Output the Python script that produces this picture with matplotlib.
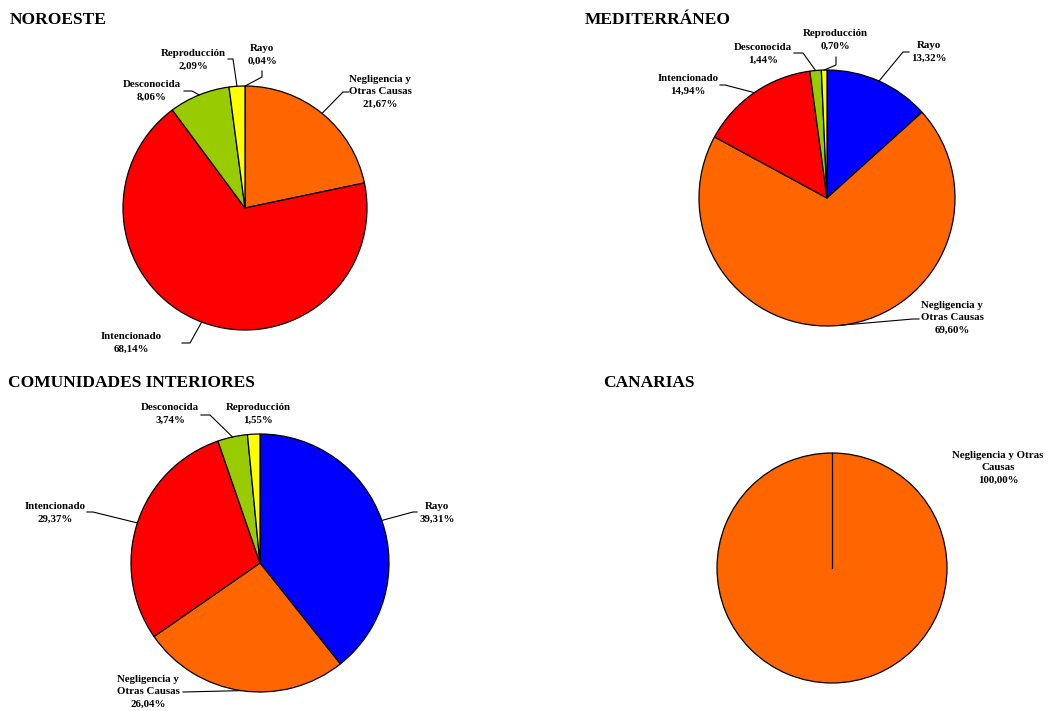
import matplotlib
matplotlib.use("Agg")
import matplotlib.pyplot as plt
import numpy as np

plt.rcParams['font.family'] = ['Liberation Serif', 'DejaVu Serif']

# ---- data ----
causes = ["Rayo", "Negligencia y\nOtras Causas", "Intencionado", "Desconocida", "Reproducción"]
colors = ["#0000FF", "#FF6600", "#FF0000", "#99CC00", "#FFFF00"]

noroeste = [0.04, 21.67, 68.14, 8.06, 2.09]
mediterraneo = [13.32, 69.60, 14.94, 1.44, 0.70]
interiores = [39.31, 26.04, 29.37, 3.74, 1.55]
canarias_labels = ["Negligencia y Otras\nCausas"]
canarias = [100.00]
canarias_colors = ["#FF6600"]

titles = ["NOROESTE", "MEDITERRÁNEO", "COMUNIDADES INTERIORES", "CANARIAS"]

W, H = 1052, 711
fig = plt.figure(figsize=(W / 100, H / 100), dpi=100)
ax = fig.add_axes([0, 0, 1, 1])


def fy(y):
    return H - y


def fmt(v):
    return f"{v:.2f}".replace('.', ',') + '%'


def draw_pie(values, cols, cx, cy, r):
    wedges, _ = ax.pie(values, colors=cols, startangle=90, counterclock=False,
                       center=(cx, fy(cy)), radius=r, frame=True,
                       wedgeprops=dict(edgecolor='black', linewidth=0.9))
    return wedges


def label(wedge, cx, cy, r, name, val, tx, ty, leader=None):
    ax.text(tx, fy(ty), f"{name}\n{fmt(val)}", ha='center', va='center',
            fontsize=7.8, fontweight='bold', linespacing=1.45)
    if leader is not None:
        th = np.deg2rad((wedge.theta1 + wedge.theta2) / 2)
        ex, ey = cx + r * np.cos(th), fy(cy) + r * np.sin(th)
        xs = [ex] + [p[0] for p in leader]
        ys = [ey] + [fy(p[1]) for p in leader]
        ax.plot(xs, ys, color='black', linewidth=0.8)


# NOROESTE
c = (245, 208, 122)
w = draw_pie(noroeste, colors, *c)
pos = [((262, 55), [(262, 77), (262, 71)]),
       ((380, 92), [(343, 92), (349, 92)]),
       ((131, 343), [(190, 343), (182, 343)]),
       ((152, 91), [(192, 91), (184, 91)]),
       ((193, 60), [(233, 59), (228, 59)])]
for i, (t, ld) in enumerate(pos):
    label(w[i], c[0], c[1], c[2], causes[i], noroeste[i], t[0], t[1], ld)

# MEDITERRÁNEO
c = (827, 198, 128)
w = draw_pie(mediterraneo, colors, *c)
pos = [((929, 52), [(903, 52), (909, 52)]),
       ((952, 318), [(913, 319), (919, 319)]),
       ((688, 85), [(725, 85), (720, 85)]),
       ((763, 54), [(803, 53), (794, 53)]),
       ((835, 40), [(836, 65), (836, 57)])]
for i, (t, ld) in enumerate(pos):
    label(w[i], c[0], c[1], c[2], causes[i], mediterraneo[i], t[0], t[1], ld)

# COMUNIDADES INTERIORES
c = (260, 563, 129)
w = draw_pie(interiores, colors, *c)
pos = [((437, 513), [(413, 512), (417, 512)]),
       ((148, 692), [(183, 692)]),
       ((55, 513), [(93, 512), (87, 512)]),
       ((170, 414), [(210, 415), (201, 415)]),
       ((258, 414), None)]
for i, (t, ld) in enumerate(pos):
    label(w[i], c[0], c[1], c[2], causes[i], interiores[i], t[0], t[1], ld)

# CANARIAS
c = (832, 568, 115)
w = draw_pie(canarias, canarias_colors, *c)
label(w[0], c[0], c[1], c[2], canarias_labels[0], canarias[0], 998, 468, None)
# radial edge of the single full wedge (start angle)
th0 = np.deg2rad(w[0].theta2 if w[0].theta2 % 360 == 90 else w[0].theta1)
ax.plot([c[0], c[0] + c[2] * np.cos(th0)], [fy(c[1]), fy(c[1]) + c[2] * np.sin(th0)],
        color='black', linewidth=0.9)

# titles
tpos = [(10, 20), (585, 20), (8, 383), (603, 383)]
for t, (x, y) in zip(titles, tpos):
    ax.text(x, fy(y), t, ha='left', va='center', fontsize=12.5, fontweight='bold')

ax.set_xlim(0, W)
ax.set_ylim(0, H)
ax.set_aspect('equal')
ax.axis('off')

fig.savefig("out.png", dpi=100)
